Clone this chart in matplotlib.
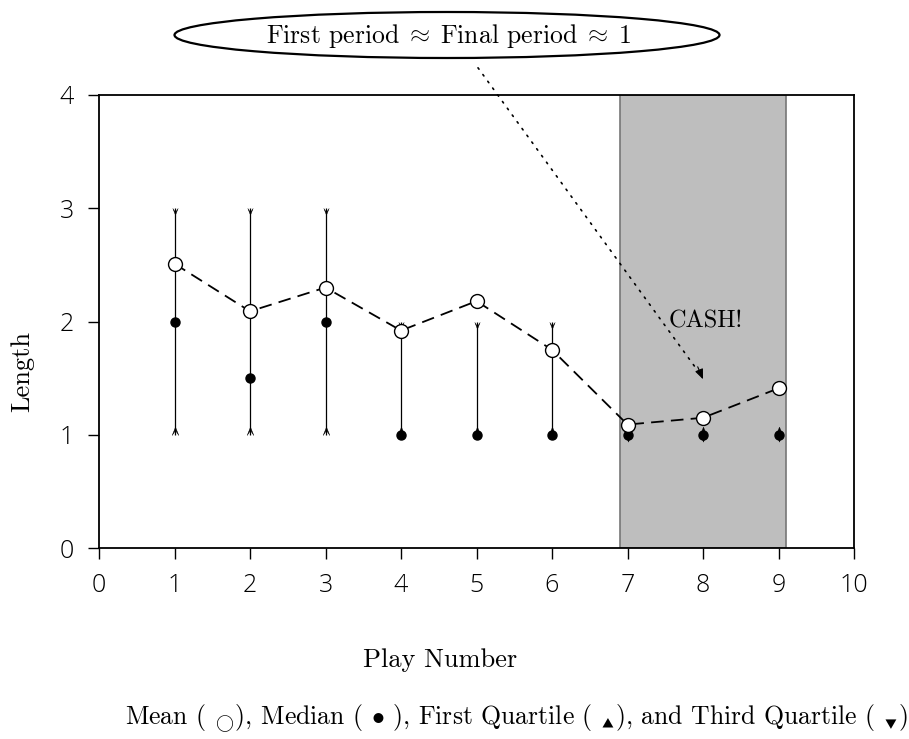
import matplotlib
matplotlib.use("Agg")
import matplotlib.pyplot as plt
from matplotlib.path import Path
from matplotlib.patches import Ellipse

plt.rcParams['mathtext.fontset'] = 'cm'
plt.rcParams['font.family'] = ['cmr10', 'DejaVu Sans']
plt.rcParams['axes.unicode_minus'] = False

# ---- data ----
play = [1, 2, 3, 4, 5, 6, 7, 8, 9]
mean_len = [2.51, 2.09, 2.30, 1.92, 2.18, 1.75, 1.09, 1.15, 1.41]
median_len = [2.0, 1.5, 2.0, 1.0, 1.0, 1.0, 1.0, 1.0, 1.0]
q1_len = [1, 1, 1, 1, 1, 1, 1, 1, 1]
q3_len = [3, 3, 3, 2, 2, 2, 1, 1, 1]
cash_span = (6.9, 9.1)
xticks = [0, 1, 2, 3, 4, 5, 6, 7, 8, 9, 10]
yticks = [0, 1, 2, 3, 4]

fig = plt.figure(figsize=(9.09, 7.39), dpi=100)
ax = fig.add_axes([99/909, 1-548/739, (854-99)/909, (548-95)/739])
ax.set_xlim(0, 10)
ax.set_ylim(0, 4)

# shaded cash region
ax.axvspan(cash_span[0], cash_span[1], facecolor='#bebebe', edgecolor='#777777', lw=1.2, zorder=0)

# quartile range lines
ax.vlines(play, q1_len, q3_len, colors='black', lw=0.9, zorder=2)

# arrowhead markers (barbs at the data value, tip pointing inward)
down_head = Path([(-0.4, 0.0), (0.0, -1.0), (0.4, 0.0), (0.0, -0.6), (-0.4, 0.0)],
                 [Path.MOVETO, Path.LINETO, Path.LINETO, Path.LINETO, Path.CLOSEPOLY])
up_head = Path([(-0.4, 0.0), (0.0, 1.0), (0.4, 0.0), (0.0, 0.6), (-0.4, 0.0)],
               [Path.MOVETO, Path.LINETO, Path.LINETO, Path.LINETO, Path.CLOSEPOLY])
ax.plot(play, q3_len, linestyle='none', marker=down_head, markersize=9.5,
        color='black', markeredgewidth=0.3, zorder=3)
ax.plot(play, q1_len, linestyle='none', marker=up_head, markersize=12,
        color='black', markeredgewidth=0.3, zorder=3)

# median dots
ax.plot(play, median_len, linestyle='none', marker='o', markersize=6.5,
        color='black', zorder=4)

# mean line
ax.plot(play, mean_len, color='black', lw=1.3, dashes=(7, 4), zorder=5)
ax.plot(play, mean_len, linestyle='none', marker='o', markersize=10,
        markerfacecolor='white', markeredgecolor='black', markeredgewidth=1.0, zorder=6)

# frame / ticks
for s in ax.spines.values():
    s.set_linewidth(1.3)
ax.set_xticks(xticks)
ax.set_yticks(yticks)
ax.tick_params(direction='out', length=8, width=1.0, pad=10, labelsize=18)
for lab in ax.get_xticklabels() + ax.get_yticklabels():
    lab.set_family(['Open Sans', 'DejaVu Sans'])
    lab.set_fontweight('light')

# CASH! label
ax.text(8.04, 2.0, 'CASH!', ha='center', va='center', fontsize=17.5)

# dotted arrow from annotation
ax.annotate('', xy=(7.98, 1.52), xytext=(5.02, 4.24),
            arrowprops=dict(arrowstyle='-', linestyle=(0, (1, 4)), lw=1.2, color='black',
                            shrinkA=0, shrinkB=0),
            annotation_clip=False)
ax.annotate('', xy=(8.0, 1.49), xytext=(7.93, 1.6),
            arrowprops=dict(arrowstyle='-|>,head_length=0.6,head_width=0.25', lw=0.8,
                            color='black', shrinkA=0, shrinkB=0),
            annotation_clip=False)

# ellipse annotation
fig.add_artist(Ellipse((447/909, 1-35/739), 545/909, 46/739, transform=fig.transFigure,
                       facecolor='white', edgecolor='black', lw=1.6))
fig.text(448/909, 1-36/739, r'First period$\;\approx\;$Final period$\;\approx\;$1',
         ha='center', va='center', fontsize=18.5)

# axis labels
fig.text(440/909, 1-660/739, 'Play Number', ha='center', va='center', fontsize=19)
fig.text(22/909, 1-372/739, 'Length', ha='center', va='center', rotation=90, fontsize=19)

fig.text(516/909, 1-718/739,
         r'Mean ( $_{\bigcirc}$), Median ( $\bullet$ ), First Quartile ( $_{\blacktriangle}$), and Third Quartile ( $_{\blacktriangledown}$)',
         ha='center', va='center', fontsize=18.5)

fig.savefig('out.png', dpi=100)
